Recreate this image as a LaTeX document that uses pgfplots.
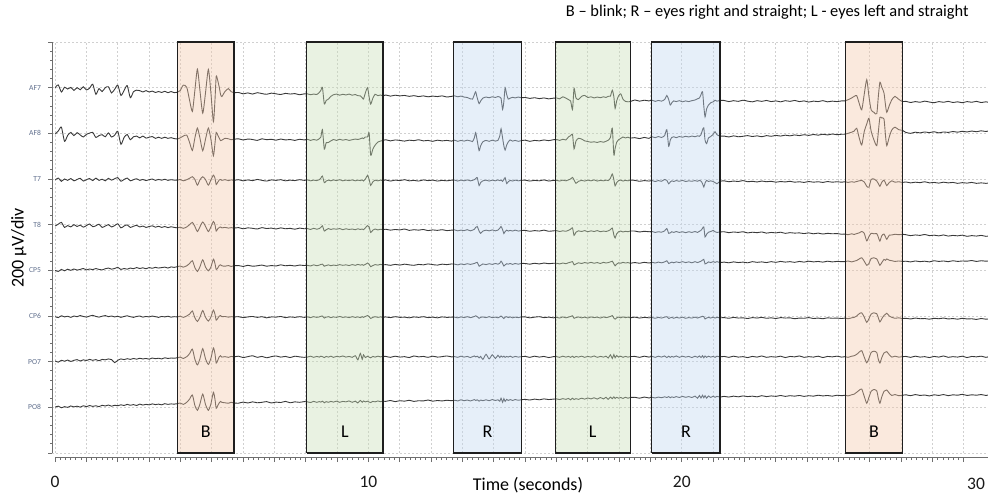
\documentclass[border=0pt]{standalone}
\usepackage{fontspec}
\setmainfont{Carlito}
\usepackage{pgfplots}
\usepackage{pgfplotstable}
\pgfplotsset{compat=1.18}

\definecolor{tracegray}{RGB}{58,58,58}
\definecolor{gridgray}{RGB}{208,208,208}
\definecolor{axisgray}{RGB}{110,110,110}
\definecolor{chlabel}{RGB}{95,110,140}
\definecolor{blinkfill}{RGB}{242,200,170}
\definecolor{leftfill}{RGB}{200,222,182}
\definecolor{rightfill}{RGB}{192,215,240}
\definecolor{boxedge}{RGB}{30,30,30}

% EEG, microvolts relative to each channel line (200 uV per division)
\pgfplotstableread{
t AF7 AF8 T7 T8 CP5 CP6 PO7 PO8
0.0 0 -3 -4 -6 0 -3 3 1
0.1 12 10 4 2 -5 -7 -2 5
0.2 -19 27 -10 10 4 1 6 -2
0.3 2 -35 0 -12 -2 -4 2 3
0.4 -6 -9 -6 -4 5 -1 7 0
0.5 1 4 2 -10 0 -6 1 6
0.6 -12 -10 -8 0 6 0 6 2
0.7 0 3 -2 -8 1 -3 9 5
0.8 -9 -7 3 -2 4 2 3 1
0.9 4 -16 -9 -11 8 -2 8 7
1.0 -10 -4 -3 -4 2 -5 5 3
1.1 -2 1 2 3 6 0 10 8
1.2 15 4 -7 -9 3 3 6 4
1.3 -29 -18 4 -5 8 -2 9 7
1.4 -4 -10 -6 2 4 -5 4 3
1.5 -17 -6 -1 -12 2 -1 10 9
1.6 0 -15 -8 -6 7 2 8 6
1.7 4 2 3 0 10 -3 12 10
1.8 -23 -16 -5 -10 5 0 9 5
1.9 -7 -8 1 -4 8 -4 -4 9
2.0 11 9 6 4 13 -1 6 7
2.1 -34 -48 -10 -14 4 -6 12 11
2.2 -12 -18 -2 -6 8 -2 9 8
2.3 9 -5 4 -1 5 1 13 13
2.4 -44 -28 -8 -12 10 -3 10 9
2.5 -18 -15 -3 -7 7 -6 14 12
2.6 -11 -12 1 -3 12 -2 11 8
2.7 -13 -20 -6 -10 8 0 15 14
2.8 -19 -12 -2 -6 11 -5 12 10
2.9 -13 -21 -7 -12 7 -2 14 13
3.0 -19 -17 -3 -8 12 -4 11 11
3.1 -15 -14 0 -5 9 0 16 15
3.2 -21 -22 -6 -11 13 -3 13 12
3.3 -17 -17 -2 -7 10 -6 15 14
3.4 -21 -22 -5 -12 12 -2 12 11
3.5 -16 -17 -1 -8 14 -4 17 16
3.6 -22 -22 -6 -13 10 -1 14 13
3.7 -17 -19 -3 -9 15 -5 16 15
3.8 -22 -23 -5 -12 13 -3 15 14
3.90 -20 -25 -5 -14 16 -4 17 16
3.99 -13 -20 -2 -11 19 -1 20 19
4.09 11 -12 -8 -16 14 -6 14 13
4.20 2 -8 -3 -10 20 0 22 22
4.29 -55 -40 3 0 30 8 35 36
4.38 -104 -75 10 10 42 22 55 54
4.46 -11 -20 -2 -8 12 -8 10 8
4.54 81 23 -27 -30 -5 -24 -14 -13
4.62 -11 -20 -4 -10 15 -6 12 14
4.71 -112 -76 10 12 46 24 57 58
4.80 -21 -25 -3 -8 14 -6 12 12
4.89 80 23 -27 -30 -2 -22 -12 -13
4.97 -21 -25 -4 -10 14 -5 14 14
5.05 -149 -98 17 14 49 26 60 66
5.10 -56 -45 4 0 30 8 35 36
5.14 49 4 -24 -28 4 -18 -6 -4
5.19 31 -8 -14 -18 10 -10 6 8
5.24 0 -22 -4 -12 22 0 22 20
5.28 -30 -32 -2 -10 24 2 26 26
5.32 -39 -30 -6 -14 20 -3 20 22
5.42 -17 -22 -3 -12 18 -2 22 20
5.53 -4 -24 -7 -15 21 -5 19 18
5.62 -18 -28 -4 -13 17 -3 23 22
5.71 -22 -26 -6 -15 20 -4 21 19
5.85 -21 -24 -3 -13 21 -3 24 18
6.00 -27 -29 -8 -18 17 -7 18 23
6.15 -23 -25 -4 -14 22 -4 22 19
6.30 -28 -27 -7 -16 18 -2 26 24
6.45 -22 -31 -2 -19 20 -6 19 20
6.60 -26 -24 -6 -13 23 -3 23 22
6.75 -29 -28 -9 -17 18 -8 17 25
6.90 -24 -26 -4 -15 21 -4 22 19
7.05 -27 -30 -6 -19 19 -5 25 23
7.20 -30 -25 -3 -14 24 -2 20 21
7.35 -25 -29 -8 -18 20 -7 23 26
7.50 -28 -27 -5 -16 22 -4 18 20
7.65 -26 -31 -7 -20 19 -6 24 24
7.80 -31 -26 -3 -15 23 -3 21 22
7.95 -27 -29 -6 -18 21 -6 19 25
8.05 -27 -26 -4 -17 22 -4 20 24
8.15 -31 -31 -8 -21 19 -7 24 21
8.25 -28 -27 -5 -16 24 -3 19 26
8.35 -30 -30 -7 -20 20 -6 23 22
8.43 -21 -24 -3 -17 23 -4 20 25
8.48 -12 -16 4 -12 26 -1 24 23
8.53 1 16 13 -5 27 0 22 27
8.59 -71 -69 -16 -28 18 -9 18 20
8.65 -56 -41 -9 -22 21 -5 23 25
8.72 -50 -40 -5 -17 24 -3 20 22
8.80 -38 -33 -8 -21 20 -7 24 26
8.88 -31 -27 -4 -18 23 -4 19 23
8.98 -28 -31 -7 -20 21 -6 23 27
9.08 -33 -26 -3 -17 25 -2 21 22
9.18 -29 -30 -8 -22 22 -6 25 26
9.28 -32 -27 -5 -18 24 -4 20 24
9.38 -28 -31 -7 -21 21 -7 23 28
9.48 -33 -28 -4 -19 25 -3 19 22
9.58 -30 -25 -8 -22 22 -6 26 27
9.66 -35 -27 -5 -18 26 -4 8 19
9.74 -36 -24 -7 -21 23 -7 36 30
9.80 -44 -20 -4 -19 25 -3 10 22
9.84 -50 -23 -9 -22 22 -6 30 28
9.90 -23 -16 0 -14 26 -2 18 24
9.97 0 -16 16 -4 32 2 24 27
10.02 -41 2 -2 -10 27 -3 20 23
10.07 -72 -96 -28 -34 16 -11 17 21
10.14 -46 -69 -12 -24 21 -6 23 26
10.21 -29 -52 -5 -19 25 -3 20 24
10.30 -35 -38 -8 -23 23 -6 24 28
10.38 -32 -34 -5 -20 26 -4 21 25
10.46 -36 -31 -7 -22 24 -6 23 27
10.55 -32 -28 -4 -20 25 -4 23 26
10.70 -37 -33 -9 -24 22 -7 19 30
10.85 -33 -29 -5 -21 26 -3 24 25
11.00 -36 -31 -7 -23 23 -6 20 29
11.15 -34 -34 -3 -19 27 -5 22 27
11.30 -38 -30 -8 -25 24 -8 18 31
11.45 -35 -32 -6 -22 22 -4 25 26
11.60 -39 -28 -9 -24 26 -6 21 29
11.75 -36 -33 -4 -21 24 -3 23 28
11.90 -40 -31 -7 -26 28 -7 19 32
12.05 -37 -35 -5 -23 25 -5 24 27
12.20 -39 -30 -9 -25 23 -8 20 30
12.35 -36 -33 -6 -22 27 -4 22 28
12.50 -41 -31 -8 -26 25 -6 25 31
12.65 -38 -34 -5 -24 28 -5 21 29
12.75 -36 -30 -5 -23 27 -5 22 31
12.85 -40 -35 -9 -27 24 -8 19 28
12.95 -37 -31 -5 -24 28 -4 24 33
13.05 -41 -34 -8 -26 25 -7 20 29
13.15 -43 -30 -4 -22 29 -3 23 32
13.25 -49 -33 -8 -27 26 -7 18 28
13.32 -50 -36 -6 -24 28 -5 22 31
13.38 -30 -19 -3 -20 30 -2 25 34
13.42 -18 3 2 -12 33 1 21 30
13.47 -45 -32 6 -8 35 -3 24 33
13.53 -70 -76 -29 -28 18 -10 17 27
13.58 -58 -54 -15 -38 22 -6 23 32
13.65 -46 -37 -8 -28 28 -4 10 29
13.75 -41 -31 -5 -24 25 -7 32 33
13.85 -44 -35 -9 -27 29 -3 12 29
13.95 -40 -30 -5 -23 26 -7 30 34
14.05 -43 -34 -8 -27 30 -5 14 30
14.13 -39 -31 -4 -24 27 -8 28 33
14.19 -41 -11 -7 -16 31 -4 18 27
14.23 -46 20 -5 -8 40 0 25 40
14.28 -95 -21 -10 -22 30 -6 20 22
14.32 -60 -55 -2 -39 19 -11 24 38
14.36 0 -73 6 -30 24 -5 19 26
14.41 -30 -51 -20 -24 29 -3 23 35
14.46 -50 -38 -12 -28 27 -7 20 30
14.52 -46 -29 -6 -25 30 -4 24 34
14.60 -42 -34 -9 -28 26 -8 19 30
14.68 -45 -31 -5 -24 30 -5 23 34
14.78 -41 -35 -8 -28 27 -7 20 31
14.88 -44 -32 -6 -26 30 -4 22 33
15.00 -43 -30 -5 -25 30 -4 23 35
15.15 -47 -35 -9 -29 27 -8 19 32
15.30 -44 -31 -6 -26 31 -5 24 36
15.45 -48 -33 -8 -28 28 -3 20 33
15.60 -45 -29 -4 -24 32 -7 23 37
15.75 -49 -32 -9 -29 29 -5 18 34
15.90 -46 -28 -6 -27 31 -8 22 36
16.00 -45 -27 -6 -26 31 -6 22 37
16.10 -49 -31 -9 -30 28 -9 19 34
16.20 -40 -26 -5 -27 32 -4 24 38
16.30 -46 -29 -8 -29 29 -8 20 35
16.38 -52 -16 -4 -25 33 -5 23 39
16.45 -58 -10 0 -20 36 -2 19 33
16.51 -96 -5 7 -14 38 1 24 40
16.56 -3 -68 -4 -47 24 -10 18 34
16.62 -45 -34 -19 -33 28 -7 23 38
16.70 -52 -22 -10 -27 33 -4 20 35
16.80 -38 -25 -6 -30 30 -8 24 40
16.90 -34 -33 -9 -26 34 -5 19 36
17.00 -43 -36 -5 -31 31 -9 23 41
17.10 -40 -39 -8 -27 35 -4 20 37
17.20 -45 -37 -4 -30 31 -7 25 42
17.30 -41 -40 -9 -26 34 -5 19 36
17.40 -44 -36 -6 -31 30 -9 23 43
17.50 -40 -39 -8 -28 35 -4 20 37
17.58 -43 -35 -5 -30 32 -7 24 44
17.65 -38 -30 -7 -27 34 -5 16 35
17.72 -37 -18 3 -22 37 -2 30 45
17.78 -11 22 22 -15 40 2 14 38
17.83 -40 -95 -3 -45 28 -9 31 46
17.87 -91 -66 -30 -58 20 -14 17 39
17.92 -58 -39 -16 -40 27 -8 27 44
17.98 -36 -28 -7 -31 33 -5 20 40
18.05 -27 -22 -5 -28 31 -8 24 43
18.12 -50 -16 -9 -32 35 -4 19 39
18.20 -60 -20 -6 -29 32 -7 23 44
18.28 -62 -17 -8 -31 34 -5 20 40
18.35 -61 -21 -5 -28 31 -8 22 43
18.50 -54 -19 -6 -28 34 -5 23 44
18.65 -59 -23 -10 -32 31 -9 19 40
18.80 -55 -18 -7 -29 35 -6 24 45
18.95 -58 -22 -9 -31 32 -8 20 41
19.05 -55 -15 -7 -30 35 -7 23 44
19.15 -60 -19 -11 -34 32 -10 19 41
19.25 -56 -14 -7 -31 36 -6 24 45
19.35 -59 -18 -10 -33 33 -9 20 42
19.45 -52 -10 -2 -27 37 -5 25 46
19.52 -34 16 -6 -17 42 -3 18 43
19.58 -52 -57 -21 -38 30 -11 24 47
19.63 -76 -30 -13 -36 33 -8 19 42
19.68 -66 -18 -8 -31 36 -6 23 46
19.74 -58 -15 -11 -34 33 -10 20 43
19.82 -61 -19 -7 -30 37 -6 25 47
19.92 -57 -14 -10 -34 34 -9 19 43
20.02 -62 -17 -6 -31 38 -5 24 48
20.12 -58 -13 -11 -35 34 -10 20 44
20.22 -61 -16 -8 -31 37 -7 23 47
20.32 -57 -12 -10 -34 33 -9 18 43
20.42 -54 -15 -7 -30 38 -5 24 49
20.50 -49 -11 -10 -34 34 -9 19 40
20.56 -45 -13 -6 -29 37 -6 25 52
20.61 -31 -6 -9 -25 40 -4 18 41
20.66 -18 15 -20 -16 45 -1 26 53
20.70 -80 24 -35 -10 48 -3 17 42
20.74 -128 -30 -18 -54 28 -13 25 51
20.79 -93 -45 -6 -42 31 -9 19 40
20.85 -76 -20 -11 -33 37 -6 24 50
20.92 -66 -14 -8 -30 34 -9 20 43
21.00 -62 -4 -11 -25 38 -5 23 49
21.06 -55 7 -16 -31 35 -9 19 44
21.12 -59 -6 -21 -34 38 -6 24 48
21.22 -56 -12 -10 -32 34 -8 21 45
21.35 -56 -12 -8 -31 36 -7 23 48
21.50 -61 -16 -12 -35 33 -10 19 45
21.65 -57 -11 -9 -32 37 -6 24 49
21.80 -60 -15 -11 -34 34 -9 20 46
21.95 -55 -13 -7 -31 36 -8 22 50
22.10 -59 -10 -12 -36 33 -11 18 47
22.25 -62 -14 -10 -33 38 -7 23 49
22.40 -57 -11 -13 -35 35 -9 20 46
22.55 -60 -15 -9 -32 37 -6 25 51
22.70 -56 -10 -12 -37 34 -10 19 47
22.85 -61 -13 -10 -34 38 -8 22 50
23.00 -58 -9 -14 -36 35 -11 20 48
23.15 -62 -12 -11 -33 39 -7 24 52
23.30 -57 -8 -13 -38 36 -9 18 48
23.45 -60 -11 -10 -35 38 -8 23 51
23.60 -56 -7 -14 -37 35 -12 21 49
23.75 -61 -10 -12 -36 39 -9 25 52
23.90 -58 -6 -15 -39 36 -10 19 48
24.05 -63 -9 -11 -36 40 -7 22 51
24.20 -59 -5 -14 -40 37 -11 20 49
24.35 -61 -8 -12 -37 39 -9 24 53
24.50 -57 -4 -15 -41 36 -12 18 50
24.65 -62 -7 -11 -38 40 -8 23 52
24.80 -59 -3 -14 -40 37 -10 21 49
24.95 -61 -6 -12 -39 39 -9 24 53
25.10 -58 -4 -14 -42 38 -11 20 51
25.21 -58 -4 -12 -41 38 -9 22 53
25.30 -53 0 -15 -44 41 -12 19 50
25.42 -45 5 -12 -40 37 -8 24 55
25.50 -38 10 -14 -43 40 -6 26 58
25.58 -35 22 -11 -39 43 0 32 66
25.66 -69 -20 -8 -36 50 10 42 75
25.74 -97 -51 -6 -30 55 14 48 80
25.82 -29 8 -13 -38 40 -5 20 48
25.90 35 41 -32 -71 22 -28 -5 18
25.97 -38 66 -36 -52 30 -12 14 44
26.04 -97 10 -2 -38 52 8 40 70
26.13 -108 -29 0 -40 55 14 46 78
26.22 -114 -54 -9 -39 50 10 40 72
26.27 -38 6 -20 -55 36 -8 10 40
26.32 24 70 -32 -72 22 -26 -6 18
26.38 2 67 -14 -48 34 -12 18 46
26.45 -23 63 -5 -41 48 2 38 70
26.50 -78 -12 -18 -54 44 8 42 74
26.54 -108 -54 -29 -64 50 12 44 76
26.62 -78 -15 -15 -46 44 0 30 62
26.70 -53 15 -8 -45 42 -6 20 52
26.80 -38 27 -14 -42 39 -10 24 56
26.92 -51 16 -12 -44 41 -8 20 51
27.04 -61 13 -15 -42 39 -11 22 53
27.15 -60 4 -13 -44 40 -10 23 55
27.30 -65 0 -17 -48 37 -13 19 51
27.45 -61 5 -14 -45 41 -9 24 56
27.60 -64 2 -16 -47 38 -12 20 52
27.75 -59 6 -12 -43 40 -11 22 54
27.90 -63 3 -17 -48 37 -14 18 50
28.05 -66 7 -15 -46 42 -10 23 55
28.20 -61 2 -18 -49 39 -12 20 52
28.35 -64 6 -14 -45 41 -9 25 56
28.50 -60 4 -17 -50 38 -13 19 51
28.65 -65 8 -15 -47 42 -11 22 55
28.80 -62 5 -19 -49 39 -14 20 53
28.95 -66 9 -16 -46 41 -10 24 57
29.10 -61 6 -18 -51 40 -13 18 52
29.25 -64 10 -15 -48 43 -12 23 55
29.40 -60 7 -19 -50 39 -15 21 53
29.55 -65 11 -17 -47 42 -11 24 56
29.70 -62 8 -19 -51 40 -14 19 52
29.77 -64 10 -18 -50 41 -13 21 54
}\eeg

\pgfplotsset{
  trace/.style={tracegray, line width=0.45pt, smooth, tension=0.4, mark=none},
  event/.style={draw=boxedge, line width=0.65pt, fill opacity=0.4, draw opacity=1},
}
\tikzset{boxlabel/.style={font=\fontsize{9}{10}\selectfont, anchor=base}}

\begin{document}
\begin{tikzpicture}
\useasboundingbox (0,0) rectangle (494pt,246pt);

\begin{axis}[
  at={(26pt,19.5pt)}, anchor=south west,
  scale only axis, width=468pt, height=205.5pt,
  xmin=-0.1, xmax=29.77, ymin=0, ymax=9,
  clip=false,
  axis lines*=left,
  x axis line style={draw=none},
  y axis line style={draw=axisgray, line width=0.5pt},
  xtick={0,...,29}, xticklabels={},
  xtick style={draw=none},
  ytick={0,...,9},
  yticklabels={,PO8,PO7,CP6,CP5,T8,T7,AF8,AF7,},
  minor y tick num=4,
  tick align=outside,
  major tick length=2pt, minor tick length=1pt,
  ytick style={draw=axisgray, line width=0.4pt},
  yticklabel style={font=\fontsize{3.8}{4}\selectfont, text=chlabel},
  grid=major,
  major grid style={gridgray, dash pattern=on 1pt off 1pt, line width=0.4pt},
  ylabel={200 µV/div},
  ylabel style={at={(axis description cs:-0.0304,0.499)}, anchor=base,
    font=\fontsize{9}{10}\selectfont},
]
\addplot [trace] table [x=t, y expr=8+\thisrow{AF7}/200] {\eeg};
\addplot [trace] table [x=t, y expr=7+\thisrow{AF8}/200] {\eeg};
\addplot [trace] table [x=t, y expr=6+\thisrow{T7}/200] {\eeg};
\addplot [trace] table [x=t, y expr=5+\thisrow{T8}/200] {\eeg};
\addplot [trace] table [x=t, y expr=4+\thisrow{CP5}/200] {\eeg};
\addplot [trace] table [x=t, y expr=3+\thisrow{CP6}/200] {\eeg};
\addplot [trace] table [x=t, y expr=2+\thisrow{PO7}/200] {\eeg};
\addplot [trace] table [x=t, y expr=1+\thisrow{PO8}/200] {\eeg};

% marked intervals
\addplot [event, fill=blinkfill] coordinates {(3.90,0) (3.90,9) (5.71,9) (5.71,0) (3.90,0)};
\addplot [event, fill=leftfill] coordinates {(8.03,0) (8.03,9) (10.46,9) (10.46,0) (8.03,0)};
\addplot [event, fill=rightfill] coordinates {(12.71,0) (12.71,9) (14.88,9) (14.88,0) (12.71,0)};
\addplot [event, fill=leftfill] coordinates {(15.96,0) (15.96,9) (18.35,9) (18.35,0) (15.96,0)};
\addplot [event, fill=rightfill] coordinates {(19.04,0) (19.04,9) (21.22,9) (21.22,0) (19.04,0)};
\addplot [event, fill=blinkfill] coordinates {(25.22,0) (25.22,9) (27.04,9) (27.04,0) (25.22,0)};

\node [boxlabel] at (axis cs:4.805,0.33) {B};
\node [boxlabel] at (axis cs:9.245,0.33) {L};
\node [boxlabel] at (axis cs:13.795,0.33) {R};
\node [boxlabel] at (axis cs:17.155,0.33) {L};
\node [boxlabel] at (axis cs:20.13,0.33) {R};
\node [boxlabel] at (axis cs:26.13,0.33) {B};
\end{axis}

\begin{axis}[
  at={(27.5pt,17.5pt)}, anchor=south west,
  scale only axis, width=466.5pt, height=1pt,
  xmin=0, xmax=29.77, ymin=0, ymax=1,
  axis x line*=bottom, axis y line=none,
  x axis line style={draw=axisgray, line width=0.5pt},
  xtick={0,...,29},
  xticklabels={0,,,,,,,,,,10,,,,,,,,,,20,,,,,,,,,},
  minor x tick num=5,
  tick align=outside,
  major tick length=2.5pt, minor tick length=1.5pt,
  xtick style={draw=axisgray, line width=0.4pt},
  xticklabel style={font=\fontsize{8.75}{10}\selectfont, text=black!90, yshift=-3.5pt},
  extra x ticks={29.77}, extra x tick labels={30},
  extra x tick style={major tick length=0pt,
    xticklabel style={anchor=north east, xshift=2pt, yshift=-3.5pt}},
  xlabel={Time (seconds)},
  xlabel style={at={(axis cs:15.09,0)}, anchor=base, yshift=-16.5pt,
    font=\fontsize{9}{10}\selectfont},
]
\end{axis}

\node [anchor=base east, inner sep=0pt, font=\fontsize{8.2}{9}\selectfont]
  at (484.5pt,237.5pt) {B – blink; R – eyes right and straight; L - eyes left and straight};
\end{tikzpicture}
\end{document}
